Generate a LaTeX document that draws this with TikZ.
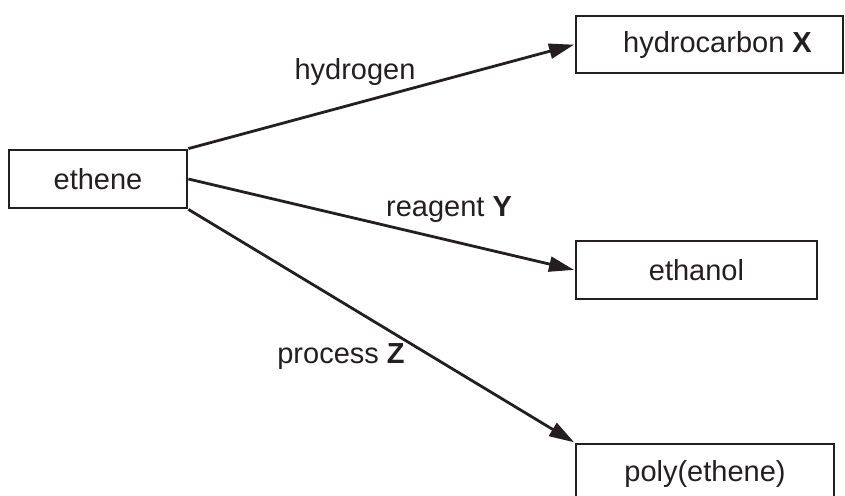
\documentclass[tikz,border=0pt]{standalone}
\usepackage{fontspec}
\setmainfont{Liberation Sans}
\usetikzlibrary{arrows.meta}
\definecolor{ink}{HTML}{231F20}
\begin{document}
\begin{tikzpicture}[x=0.5pt,y=-0.5pt,
  box/.style={draw=ink,line width=1.4pt,rectangle,inner sep=0pt,text=ink,
    font=\fontsize{14.5pt}{17pt}\selectfont},
  lbl/.style={text=ink,inner sep=0pt,font=\fontsize{14.5pt}{17pt}\selectfont},
  conn/.style={draw=ink,line width=1.4pt,-{Triangle[length=12.5pt,width=7.5pt]},shorten >=0.3pt}]
\useasboundingbox (0,0) rectangle (845,495);
\node[box,minimum width=89pt,minimum height=29pt] (ethene) at (98,179) {ethene};
\node[box,minimum width=133.5pt,minimum height=28.5pt] (hx) at (709.5,44.5) {\hspace*{8pt}hydrocarbon \textbf{X}};
\node[box,minimum width=120.5pt,minimum height=29pt] (ethanol) at (696.5,270) {ethanol};
\node[box,minimum width=129pt,minimum height=30pt] (poly) at (705,474) {poly(ethene)};
\draw[conn] (ethene.north east) -- (hx.west);
\draw[conn] (ethene.east) -- (ethanol.west);
\draw[conn] (ethene.south east) -- (poly.north west);
\node[lbl] (l1) at (355,72) {hydrogen};
\node[lbl] (l2) at (449,210) {reagent \textbf{Y}};
\node[lbl] (l3) at (341,357) {process \textbf{Z}};
\end{tikzpicture}
\end{document}
